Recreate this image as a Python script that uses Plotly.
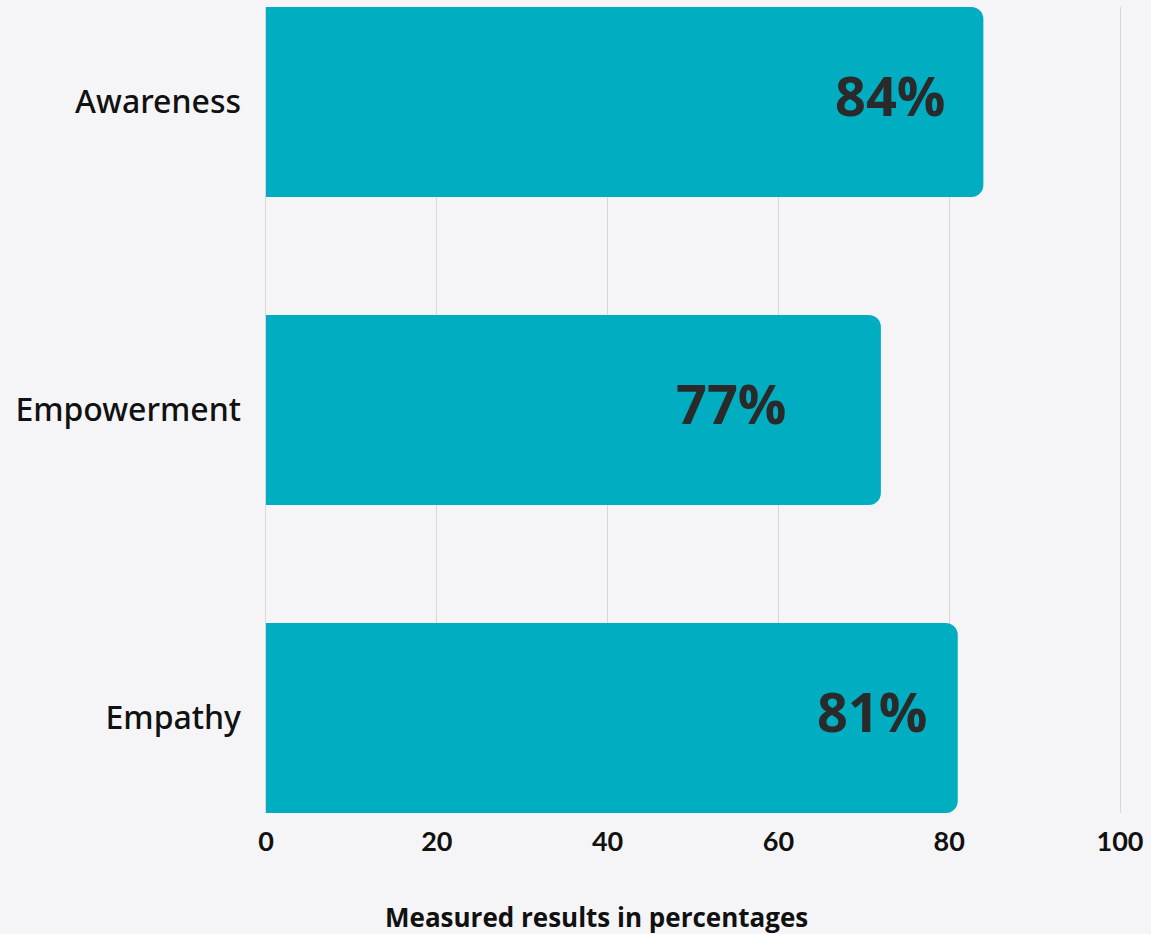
import plotly.graph_objects as go

categories = ["Empathy", "Empowerment", "Awareness"]
bar_values = [81, 72, 84]
bar_labels = ["81%", "77%", "84%"]
tick_values = [0, 20, 40, 60, 80, 100]
axis_title = "Measured results in percentages"

label_xshift = [-29, -93, -36]

fig = go.Figure()
fig.add_trace(go.Bar(
    y=categories, x=bar_values, orientation="h",
    marker=dict(color="#00adc1", line=dict(width=0)),
    width=0.617, hoverinfo="skip",
))

for cat, val, lab, xs in zip(categories, bar_values, bar_labels, label_xshift):
    fig.add_annotation(
        x=val, y=cat, xref="x", yref="y", text=lab, showarrow=False,
        xanchor="right", yanchor="middle", xshift=xs, yshift=7,
        font=dict(family="Open Sans", size=54, color="#2a2a2a", weight=700),
    )

fig.add_annotation(
    x=0.3876, y=-0.129, xref="paper", yref="paper", text=axis_title,
    showarrow=False, xanchor="center", yanchor="middle",
    font=dict(family="Open Sans", size=26, color="#111111", weight=700),
)

fig.update_layout(
    width=1151, height=934,
    margin=dict(l=263, r=28, t=7, b=121),
    paper_bgcolor="#f5f5f7", plot_bgcolor="#f5f5f7",
    barcornerradius=12,
    showlegend=False,
    xaxis=dict(
        range=[-0.35, 100.35], tickvals=tick_values, showgrid=True,
        gridcolor="#d8d8d8", gridwidth=1, zeroline=False,
        showline=False, ticks="", ticklabelstandoff=10,
        tickfont=dict(family="Lato", size=27, color="#111111", weight=700),
    ),
    yaxis=dict(
        range=[-0.3085, 2.3085], categoryorder="array", categoryarray=categories,
        showgrid=False, zeroline=False, showline=False, ticks="",
        ticklabelstandoff=21,
        tickfont=dict(family="Noto Sans", size=32, color="#111111", weight=500),
    ),
)

fig.write_html("out.html", config={"displayModeBar": False},
               post_script="document.body.style.margin='0';")
